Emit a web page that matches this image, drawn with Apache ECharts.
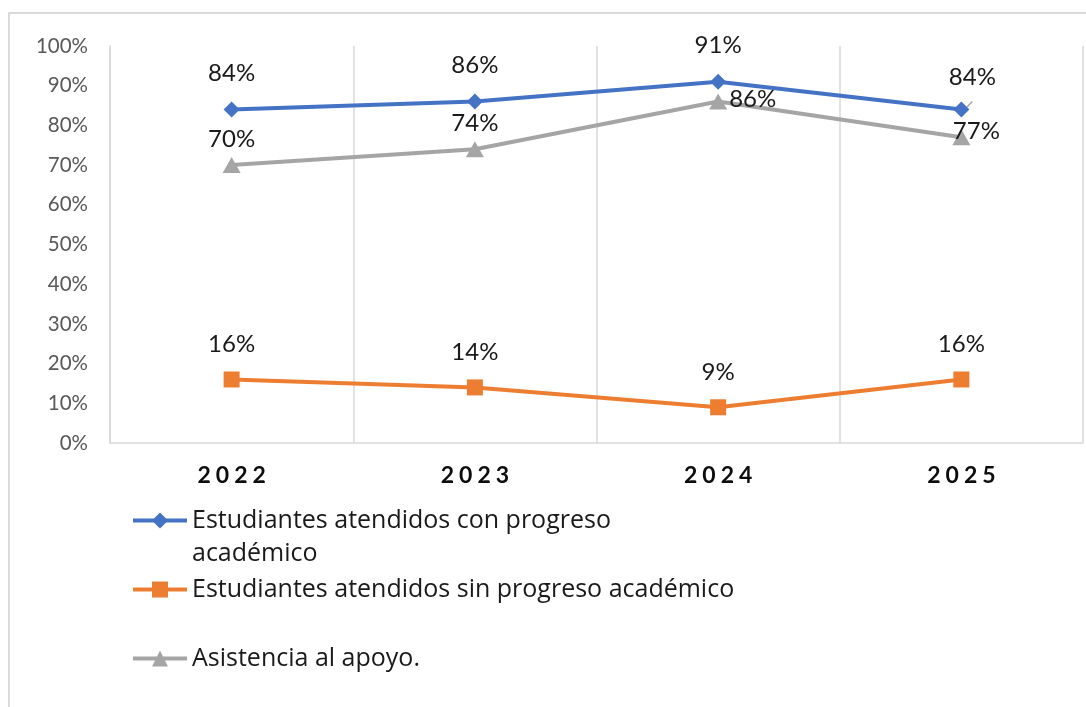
<!DOCTYPE html>
<html>
<head>
<meta charset="utf-8">
<script src="https://cdn.jsdelivr.net/npm/echarts@6/dist/echarts.min.js"></script>
<style>
html,body{margin:0;padding:0;background:#fff;}
#chart{width:1086px;height:707px;}
</style>
</head>
<body>
<div id="chart"></div>
<script>
const categories = ['2022', '2023', '2024', '2025'];
const conProgreso = [84, 86, 91, 84];
const sinProgreso = [16, 14, 9, 16];
const asistencia = [70, 74, 86, 77];
const seriesNames = [
  'Estudiantes atendidos con progreso académico',
  'Estudiantes atendidos sin progreso académico',
  'Asistencia al apoyo.'
];
const yTicks = [0, 10, 20, 30, 40, 50, 60, 70, 80, 90, 100];

const FONT = 'Lato';
const labelBase = {
  show: true,
  position: 'top',
  fontFamily: FONT,
  fontSize: 24,
  color: '#1a1a1a',
  formatter: p => p.value + '%'
};

function toData(arr, special) {
  return arr.map((v, i) => {
    const d = { value: v };
    if (special && special[i]) Object.assign(d, special[i]);
    return d;
  });
}

const legendText = { fontFamily: 'Open Sans', fontSize: 25, color: '#1a1a1a', lineHeight: 33 };
const legendCommon = {
  orient: 'vertical', left: 131, padding: 0,
  itemWidth: 54, itemHeight: 20,
  lineStyle: { width: 4 },
  textStyle: legendText
};

const chart = echarts.init(document.getElementById('chart'));
chart.setOption({
  animation: false,
  backgroundColor: '#fff',
  grid: { left: 110, right: 3, top: 46, bottom: 264 },
  graphic: [{
    type: 'rect',
    shape: { x: 9, y: 13, width: 1200, height: 900 },
    style: { fill: 'none', stroke: '#d9d9d9', lineWidth: 2 },
    silent: true,
    z: -10
  }],
  xAxis: {
    type: 'category',
    data: categories,
    boundaryGap: true,
    axisLine: { show: true, lineStyle: { color: '#d9d9d9', width: 1.5 } },
    axisTick: { show: false },
    splitLine: { show: true, lineStyle: { color: '#d9d9d9', width: 1.5 } },
    axisLabel: {
      margin: 21,
      formatter: v => v.split('').map(c => '{d|' + c + '}').join(''),
      rich: {
        d: { fontFamily: FONT, fontWeight: 'bold', fontSize: 23, color: '#0d0d0d', padding: [0, 2.5, 0, 2.5] }
      }
    }
  },
  yAxis: {
    type: 'value',
    min: 0,
    max: 100,
    interval: 10,
    axisLine: { show: true, lineStyle: { color: '#d9d9d9', width: 1.5 } },
    axisTick: { show: false },
    splitLine: { show: false },
    axisLabel: {
      margin: 22,
      fontFamily: FONT,
      fontSize: 20.5,
      color: '#595959',
      formatter: v => yTicks.indexOf(v) >= 0 ? v + '%' : ''
    }
  },
  legend: [
    Object.assign({}, legendCommon, {
      data: [seriesNames[0]],
      top: 471,
      formatter: () => '\nEstudiantes atendidos con progreso\nacadémico'
    }),
    Object.assign({}, legendCommon, {
      data: [seriesNames[1]],
      top: 573
    }),
    Object.assign({}, legendCommon, {
      data: [seriesNames[2]],
      top: 642
    })
  ],
  series: [
    {
      name: seriesNames[0],
      type: 'line',
      data: toData(conProgreso, [null, null, null, {
        label: { offset: [11, 4] },
        labelLine: { show: true, lineStyle: { color: '#a6a6a6', width: 1.5 } }
      }]),
      symbol: 'diamond',
      symbolSize: 16,
      color: '#4472C4',
      lineStyle: { width: 4, color: '#4472C4' },
      label: Object.assign({}, labelBase, { distance: 16 }),
      z: 3
    },
    {
      name: seriesNames[1],
      type: 'line',
      data: toData(sinProgreso),
      symbol: 'rect',
      symbolSize: 16,
      color: '#ED7D31',
      lineStyle: { width: 4, color: '#ED7D31' },
      label: Object.assign({}, labelBase, { distance: 15 }),
      z: 2
    },
    {
      name: seriesNames[2],
      type: 'line',
      data: toData(asistencia, [null, null,
        { label: { position: 'right', distance: 2, offset: [0, -2] } },
        { label: { offset: [15, 20] } }]),
      symbol: 'triangle',
      symbolSize: [18, 16],
      color: '#A5A5A5',
      lineStyle: { width: 4, color: '#A5A5A5' },
      label: Object.assign({}, labelBase, { distance: 6 }),
      z: 2
    }
  ]
});
</script>
</body>
</html>
